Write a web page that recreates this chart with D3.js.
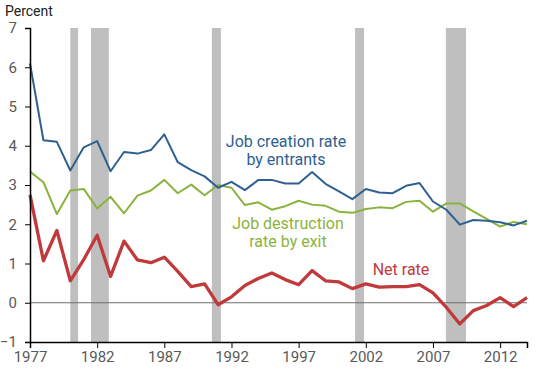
<!DOCTYPE html>
<html>
<head>
<meta charset="utf-8">
<script src="https://cdn.jsdelivr.net/npm/d3@7"></script>
<style>
  body { margin: 0; background: #fff; }
  text { font-family: Roboto, "Open Sans", sans-serif; }
</style>
</head>
<body>
<div id="chart"></div>
<script>
// yearly series, percent
var years = d3.range(1977, 2015);
var creation = [6.1, 4.14, 4.1, 3.37, 3.96, 4.12, 3.35, 3.84, 3.8, 3.89, 4.29, 3.58, 3.38, 3.22, 2.93,
  3.08, 2.87, 3.13, 3.13, 3.04, 3.04, 3.33, 3.03, 2.84, 2.64, 2.9, 2.81, 2.79, 2.98, 3.05,
  2.58, 2.37, 1.99, 2.11, 2.09, 2.05, 1.97, 2.09];
var destruction = [3.34, 3.07, 2.26, 2.86, 2.9, 2.4, 2.7, 2.28, 2.73, 2.86, 3.13, 2.79, 3.01, 2.74, 3.0,
  2.93, 2.49, 2.56, 2.37, 2.46, 2.6, 2.5, 2.47, 2.32, 2.29, 2.39, 2.43, 2.41, 2.57, 2.6,
  2.32, 2.53, 2.53, 2.33, 2.14, 1.94, 2.06, 2.0];
var net = [2.75, 1.07, 1.84, 0.56, 1.1, 1.72, 0.67, 1.57, 1.09, 1.02, 1.16, 0.8, 0.41, 0.48, -0.05,
  0.15, 0.44, 0.62, 0.76, 0.59, 0.46, 0.82, 0.56, 0.53, 0.36, 0.48, 0.4, 0.41, 0.41, 0.46,
  0.25, -0.12, -0.54, -0.2, -0.07, 0.13, -0.1, 0.13];
// recessions (start, end as fractional years)
var recessions = [[1980.0, 1980.58], [1981.54, 1982.87], [1990.54, 1991.21], [2001.2, 2001.87], [2007.96, 2009.46]];
var yTicks = [-1, 0, 1, 2, 3, 4, 5, 6, 7];
var xTicks = [1977, 1982, 1987, 1992, 1997, 2002, 2007, 2012];

var W = 550, H = 370;
var margin = {top: 28, right: 23, bottom: 28, left: 30};

var svg = d3.select("#chart").append("svg")
  .attr("width", W)
  .attr("height", H);

var x = d3.scaleLinear().domain([1977, 2014]).range([margin.left, W - margin.right]);
var y = d3.scaleLinear().domain([-1, 7]).range([H - margin.bottom, margin.top]);

// recession bars
svg.selectAll("rect.rec")
  .data(recessions)
  .enter().append("rect")
  .attr("class", "rec")
  .attr("x", d => x(d[0]))
  .attr("width", d => x(d[1]) - x(d[0]))
  .attr("y", y(7))
  .attr("height", y(-1) - y(7))
  .attr("fill", "#bfbfbf");

// zero line
svg.append("line")
  .attr("x1", x(1977)).attr("x2", x(2014))
  .attr("y1", y(0)).attr("y2", y(0))
  .attr("stroke", "#6e6e6e")
  .attr("stroke-width", 1);

var line = d3.line()
  .x((d, i) => x(years[i]))
  .y(d => y(d));

svg.append("path").datum(destruction)
  .attr("fill", "none").attr("stroke", "#8ab33d").attr("stroke-width", 2)
  .attr("stroke-linejoin", "round")
  .attr("d", line);
svg.append("path").datum(creation)
  .attr("fill", "none").attr("stroke", "#2f6090").attr("stroke-width", 2)
  .attr("stroke-linejoin", "round")
  .attr("d", line);
svg.append("path").datum(net)
  .attr("fill", "none").attr("stroke", "#c0393b").attr("stroke-width", 3.3)
  .attr("stroke-linejoin", "round")
  .attr("d", line);

// axes
var yAxis = svg.append("g")
  .attr("transform", "translate(" + margin.left + ",0)")
  .call(d3.axisLeft(y).tickValues(yTicks).tickSize(5).tickPadding(8).tickFormat(d3.format("d")));
var xAxis = svg.append("g")
  .attr("transform", "translate(0," + (H - margin.bottom) + ")")
  .call(d3.axisBottom(x).tickValues(xTicks).tickSize(6).tickPadding(3).tickFormat(d3.format("d")));

[yAxis, xAxis].forEach(function(g) {
  g.select(".domain").attr("stroke", "#000").attr("stroke-width", 1.5);
  g.selectAll(".tick line").attr("stroke", "#000");
  g.selectAll(".tick text").attr("fill", "#595959").style("font-size", "15px");
});

svg.append("text")
  .attr("x", 5).attr("y", 16)
  .attr("fill", "#222")
  .style("font-size", "14px")
  .text("Percent");

// series labels
function label(lines, cx, cy, color) {
  var t = svg.append("text")
    .attr("text-anchor", "middle")
    .attr("fill", color)
    .style("font-size", "16px");
  lines.forEach(function(s, i) {
    t.append("tspan").attr("x", cx).attr("y", cy + i * 18).text(s);
  });
}
label(["Job creation rate", "by entrants"], 286, 147, "#2f6090");
label(["Job destruction", "rate by exit"], 288, 229, "#8ab33d");
label(["Net rate"], 401, 275, "#c0393b");
</script>
</body>
</html>
